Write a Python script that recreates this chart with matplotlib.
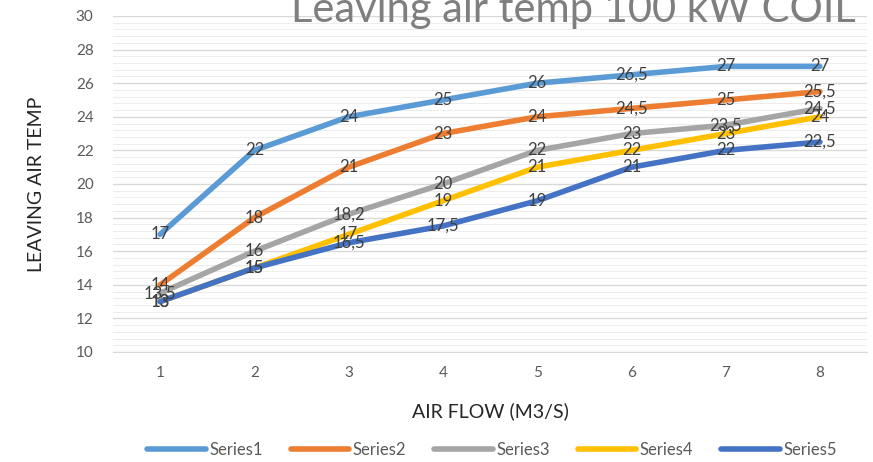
import matplotlib.pyplot as plt
import numpy as np

plt.rcParams['font.family'] = ['Lato', 'DejaVu Sans']

airflow = [1, 2, 3, 4, 5, 6, 7, 8]
series1 = [17, 22, 24, 25, 26, 26.5, 27, 27]
series2 = [14, 18, 21, 23, 24, 24.5, 25, 25.5]
series3 = [13.5, 16, 18.2, 20, 22, 23, 23.5, 24.5]
series4 = [13, 15, 17, 19, 21, 22, 23, 24]
series5 = [13, 15, 16.5, 17.5, 19, 21, 22, 22.5]
names = ['Series1', 'Series2', 'Series3', 'Series4', 'Series5']
colors = ['#5B9BD5', '#ED7D31', '#A5A5A5', '#FFC000', '#4472C4']

fig = plt.figure(figsize=(8.73, 4.62), dpi=100)
ax = fig.add_axes([113 / 873, 1 - 352 / 462, 754 / 873, 336 / 462])

x = np.arange(len(airflow))
for vals, name, c in zip([series1, series2, series3, series4, series5], names, colors):
    ax.plot(x, vals, color=c, lw=4, label=name, solid_capstyle='round', zorder=3)
    for xi, v in zip(x, vals):
        txt = ('%g' % v).replace('.', ',')
        ax.text(xi, v, txt, ha='center', va='center', fontsize=12, color='#404040', zorder=4)

ax.set_xlim(-0.5, len(airflow) - 0.5)
ax.set_ylim(10, 30)
ax.set_xticks(x)
ax.set_xticklabels([str(a) for a in airflow])
ax.set_yticks(np.arange(10, 31, 2))
ax.set_yticks(np.arange(10, 30, 0.4), minor=True)
ax.grid(axis='y', which='major', color='#D9D9D9', lw=1)
ax.grid(axis='y', which='minor', color='#EDEDED', lw=0.8)
ax.set_axisbelow(True)
for s in ['top', 'right', 'left']:
    ax.spines[s].set_visible(False)
ax.spines['bottom'].set_color('#D9D9D9')
ax.tick_params(axis='both', which='both', length=0, labelsize=11, colors='#595959', pad=14)
ax.tick_params(axis='x', pad=10)

ax.set_xlabel('AIR FLOW (M3/S)', fontsize=14, color='#262626', labelpad=16)
ax.set_ylabel('LEAVING AIR TEMP', fontsize=14, color='#262626', labelpad=22)

fig.text(573 / 873, 1 - 22 / 462, 'Leaving air temp 100 kW COIL', ha='center', va='baseline',
         fontsize=30, color='#7F7F7F')

ax.legend(loc='center', bbox_to_anchor=(492 / 873, 1 - 450 / 462), bbox_transform=fig.transFigure,
          ncol=5, frameon=False, fontsize=12, handlelength=3.5, columnspacing=1.7,
          labelcolor='#595959', handletextpad=0.2)

fig.savefig('out.png', dpi=100)
